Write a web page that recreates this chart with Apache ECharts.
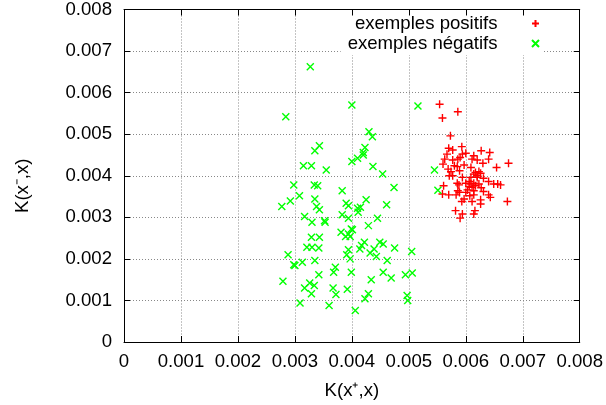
<!DOCTYPE html>
<html>
<head>
<meta charset="utf-8">
<script src="https://cdn.jsdelivr.net/npm/echarts@6/dist/echarts.min.js"></script>
<style>
html,body{margin:0;padding:0;background:#fff;}
#chart{width:606px;height:405px;}
</style>
</head>
<body>
<div id="chart"></div>
<script>
// Tick labels
const xTicks = ['0','0.001','0.002','0.003','0.004','0.005','0.006','0.007','0.008'];
const yTicks = ['0','0.001','0.002','0.003','0.004','0.005','0.006','0.007','0.008'];
const seriesNames = ['exemples positifs', 'exemples négatifs'];

// Positive examples (red +)
const posX = [0.00554,0.00586,0.00559,0.00573,0.00593,0.00570,0.00577,0.00567,0.00594,0.00600,
0.00627,0.00642,0.00614,0.00563,0.00577,0.00586,0.00590,0.00611,0.00620,0.00640,
0.00630,0.00560,0.00580,0.00585,0.00597,0.00609,0.00654,0.00675,0.00569,0.00574,
0.00571,0.00589,0.00617,0.00623,0.00626,0.00614,0.00594,0.00609,0.00620,0.00631,
0.00585,0.00588,0.00606,0.00614,0.00623,0.00640,0.00649,0.00661,0.00656,0.00561,
0.00606,0.00611,0.00617,0.00627,0.00603,0.00586,0.00589,0.00600,0.00614,0.00631,
0.00559,0.00570,0.00583,0.00614,0.00640,0.00643,0.00597,0.00593,0.00611,0.00626,
0.00626,0.00673,0.00582,0.00616,0.00614,0.00594,0.00590,0.00620,0.00609,0.00600,
0.00607,0.00577];
const posY = [0.00572,0.00554,0.00539,0.00496,0.00470,0.00466,0.00462,0.00452,0.00452,0.00454,
0.00460,0.00456,0.00448,0.00440,0.00438,0.00440,0.00444,0.00440,0.00438,0.00440,
0.00430,0.00428,0.00424,0.00422,0.00426,0.00420,0.00420,0.00430,0.00416,0.00410,
0.00400,0.00412,0.00408,0.00410,0.00406,0.00404,0.00396,0.00396,0.00396,0.00394,
0.00382,0.00378,0.00386,0.00382,0.00380,0.00386,0.00380,0.00378,0.00380,0.00376,
0.00374,0.00372,0.00376,0.00371,0.00366,0.00364,0.00360,0.00360,0.00364,0.00362,
0.00356,0.00354,0.00354,0.00354,0.00354,0.00348,0.00344,0.00338,0.00338,0.00342,
0.00332,0.00338,0.00316,0.00316,0.00308,0.00308,0.00298,0.00400,0.00380,0.00382,
0.00352,0.00400];

// Negative examples (green x)
const negX = [0.00327,0.00400,0.00516,0.00284,0.00430,0.00436,0.00343,0.00335,0.00423,0.00420,
0.00420,0.00410,0.00400,0.00315,0.00329,0.00355,0.00437,0.00454,0.00545,0.00298,
0.00334,0.00340,0.00383,0.00474,0.00308,0.00335,0.00425,0.00292,0.00551,
0.00277,0.00338,0.00343,0.00390,0.00394,0.00410,0.00415,0.00411,0.00461,0.00317,
0.00330,0.00352,0.00353,0.00383,0.00394,0.00445,0.00429,0.00399,0.00401,0.00381,
0.00394,0.00389,0.00397,0.00329,0.00343,0.00321,0.00330,0.00342,0.00422,0.00417,
0.00414,0.00449,0.00455,0.00475,0.00439,0.00432,0.00443,0.00394,0.00391,0.00397,
0.00505,0.00288,0.00298,0.00300,0.00313,0.00335,0.00462,0.00371,0.00368,0.00342,
0.00399,0.00455,0.00469,0.00494,0.00506,0.00434,0.00279,0.00326,0.00334,0.00317,
0.00367,0.00329,0.00392,0.00372,0.00429,0.00423,0.00497,0.00498,0.00309,0.00360,
0.00406];
const negY = [0.00662,0.00570,0.00568,0.00542,0.00506,0.00494,0.00472,0.00460,0.00468,0.00456,
0.00450,0.00442,0.00434,0.00424,0.00424,0.00414,0.00422,0.00404,0.00414,0.00378,
0.00378,0.00376,0.00364,0.00372,0.00352,0.00344,0.00342,0.00339,0.00365,
0.00326,0.00326,0.00318,0.00334,0.00328,0.00322,0.00324,0.00312,0.00330,0.00302,
0.00288,0.00292,0.00288,0.00306,0.00298,0.00298,0.00280,0.00272,0.00270,0.00264,
0.00260,0.00254,0.00254,0.00252,0.00252,0.00228,0.00228,0.00226,0.00240,0.00232,
0.00224,0.00240,0.00236,0.00226,0.00224,0.00214,0.00206,0.00222,0.00210,0.00200,
0.00218,0.00210,0.00186,0.00184,0.00192,0.00196,0.00196,0.00180,0.00168,0.00162,
0.00168,0.00168,0.00154,0.00162,0.00166,0.00150,0.00146,0.00142,0.00136,0.00130,
0.00130,0.00116,0.00127,0.00114,0.00116,0.00104,0.00112,0.00100,0.00094,0.00088,
0.00076];

const posData = posX.map((v, i) => [v, posY[i]]);
const negData = negX.map((v, i) => [v, negY[i]]);

const FONT = 'Liberation Sans, Arial, Helvetica, sans-serif';
const FS = 18.6;
const PLUS = 'path://M-5,0L5,0M0,-5L0,5';
const CROSS = 'path://M-5,-5L5,5M-5,5L5,-5';

const chart = echarts.init(document.getElementById('chart'), null, {renderer: 'canvas'});

function fmt(list) {
  return function (v) {
    const idx = Math.round(v / 0.001);
    return list[idx] !== undefined ? list[idx] : '';
  };
}

const axisCommon = {
  type: 'value', min: 0, max: 0.008, interval: 0.001,
  axisLine: {show: true, onZero: false, lineStyle: {color: '#000', width: 1}},
  axisTick: {show: true, inside: true, length: 6, lineStyle: {color: '#000', width: 1}}
};

chart.setOption({
  animation: false,
  backgroundColor: '#fff',
  textStyle: {fontFamily: FONT},
  grid: {left: 124, right: 23, top: 8, bottom: 63, containLabel: false},
  legend: {
    data: seriesNames,
    orient: 'vertical',
    align: 'right',
    top: 9,
    right: 62,
    itemWidth: 66,
    itemHeight: 7,
    itemGap: 1,
    padding: [5, 4, 2, 7],
    backgroundColor: '#fff',
    textStyle: {fontSize: FS, color: '#000', fontFamily: FONT},
    selectedMode: false
  },
  xAxis: [
    Object.assign({}, axisCommon, {
      position: 'bottom',
      name: 'K(x\u207A,x)',
      nameLocation: 'middle',
      nameGap: 39,
      nameTextStyle: {fontSize: FS, color: '#000', fontFamily: FONT},
      axisLabel: {show: true, fontSize: FS, color: '#000', margin: 10, fontFamily: FONT,
        showMinLabel: true, showMaxLabel: true, formatter: fmt(xTicks)},
      splitLine: {show: true, lineStyle: {color: '#888', width: 1, type: [1, 2]}}
    }),
    Object.assign({}, axisCommon, {
      position: 'top', z: 10,
      axisLabel: {show: false},
      splitLine: {show: false}
    })
  ],
  yAxis: [
    Object.assign({}, axisCommon, {
      position: 'left',
      name: 'K(x\u207B,x)',
      nameLocation: 'middle',
      nameGap: 92,
      nameTextStyle: {fontSize: FS, color: '#000', fontFamily: FONT, padding: [0, 20, 0, 0]},
      axisLabel: {show: true, fontSize: FS, color: '#000', margin: 12, fontFamily: FONT,
        showMinLabel: true, showMaxLabel: true, formatter: fmt(yTicks)},
      splitLine: {show: true, lineStyle: {color: '#888', width: 1, type: [1, 2]}}
    }),
    Object.assign({}, axisCommon, {
      position: 'right', z: 10,
      axisLabel: {show: false},
      splitLine: {show: false}
    })
  ],
  series: [
    {
      name: seriesNames[0], type: 'scatter', xAxisIndex: 0, yAxisIndex: 0,
      symbol: PLUS, symbolSize: 8, data: posData,
      itemStyle: {color: '#ff0000', borderColor: '#ff0000', borderWidth: 1.4, opacity: 1}
    },
    {
      name: seriesNames[1], type: 'scatter', xAxisIndex: 0, yAxisIndex: 0,
      symbol: CROSS, symbolSize: 7, data: negData,
      itemStyle: {color: '#00ff00', borderColor: '#00ff00', borderWidth: 1.4, opacity: 1}
    }
  ]
});
</script>
</body>
</html>
